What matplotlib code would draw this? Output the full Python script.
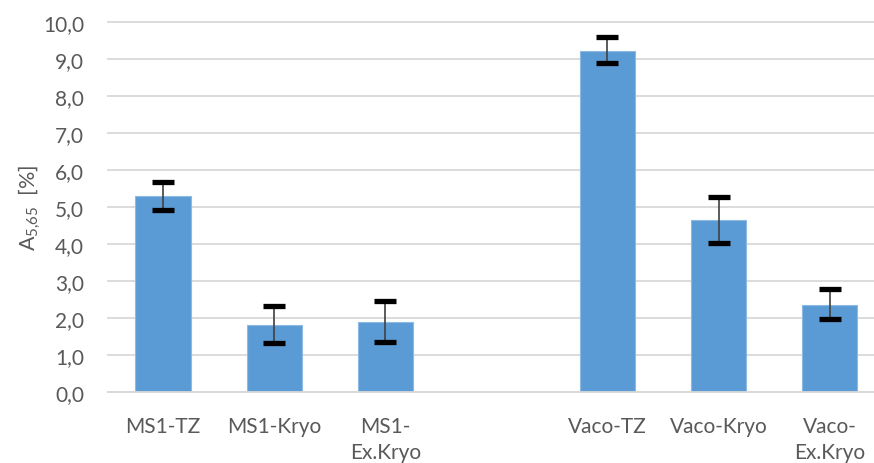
import numpy as np
import matplotlib
matplotlib.use("Agg")
import matplotlib.pyplot as plt

categories = ["MS1-TZ", "MS1-Kryo", "MS1-\nEx.Kryo", "", "Vaco-TZ", "Vaco-Kryo", "Vaco-\nEx.Kryo"]
values = [5.29, 1.83, 1.89, np.nan, 9.21, 4.64, 2.35]
err_low = [4.93, 1.33, 1.35, np.nan, 8.88, 4.02, 1.97]
err_high = [5.68, 2.34, 2.46, np.nan, 9.58, 5.28, 2.78]
yticks = [0, 1, 2, 3, 4, 5, 6, 7, 8, 9, 10]

plt.rcParams['font.family'] = ['Lato', 'DejaVu Sans']
plt.rcParams['mathtext.fontset'] = 'custom'
plt.rcParams['mathtext.rm'] = 'Lato'
plt.rcParams['mathtext.it'] = 'Lato'

fig = plt.figure(figsize=(8.74, 4.64), dpi=100)
ax = fig.add_axes([0.1232, 0.152, 1.0 - 0.1232, 0.799])

x = np.arange(len(categories))
vals = np.array(values, dtype=float)
lo = np.array(err_low, dtype=float)
hi = np.array(err_high, dtype=float)

ax.bar(x, vals, width=0.5, color="#5B9BD5", edgecolor="#8DB9E2", linewidth=0.8, zorder=2)
ax.errorbar(x, vals, yerr=[vals - lo, hi - vals], fmt="none", ecolor="#404040",
            elinewidth=1.2, capsize=0, zorder=3)
# caps
ax.errorbar(x, vals, yerr=[vals - lo, hi - vals], fmt="none", ecolor="black",
            elinewidth=0, capsize=8.2, capthick=3.8, zorder=4)

ax.set_xlim(-0.5, 6.40)
ax.set_ylim(0, 10)
ax.set_yticks(yticks)
ax.set_yticklabels([f"{v:.1f}".replace(".", ",") for v in yticks])
ax.set_xticks(x)
ax.set_xticklabels(categories, linespacing=1.35)

ax.yaxis.grid(True, color="#D9D9D9", linewidth=1.3, zorder=0)
ax.set_axisbelow(True)
for s in ["top", "right", "left"]:
    ax.spines[s].set_visible(False)
ax.spines["bottom"].set_color("#D9D9D9")
ax.spines["bottom"].set_linewidth(1.3)
for gl in ax.get_ygridlines():
    gl.set_clip_on(False)

ax.tick_params(axis="both", length=0, labelsize=15, labelcolor="#595959")
ax.tick_params(axis="y", pad=17)
ax.tick_params(axis="x", pad=17)

ax.set_ylabel(r"A$_{5{,}65}$  [%]", fontsize=15.5, color="#595959", labelpad=8)
ax.yaxis.set_label_coords(-0.085, 0.5)

fig.savefig("out.png", dpi=100)
